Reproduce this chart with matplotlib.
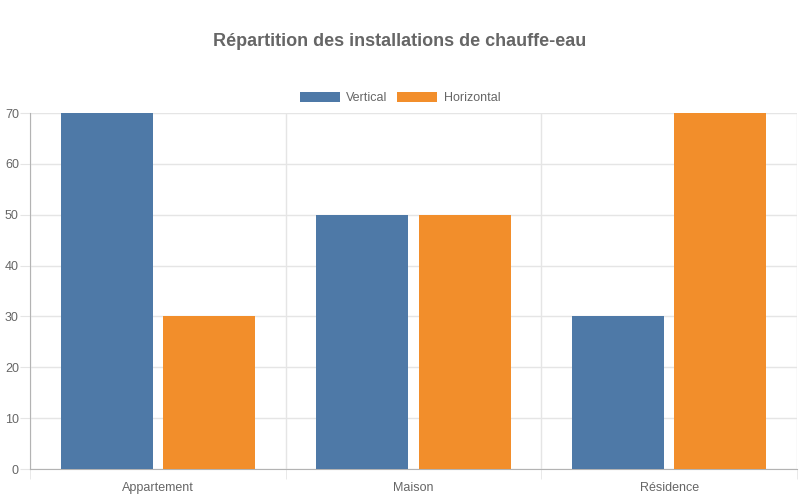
import matplotlib.pyplot as plt
import numpy as np

plt.rcParams['font.family'] = ['Liberation Sans', 'DejaVu Sans']

categories = ['Appartement', 'Maison', 'Résidence']
vertical = [70, 50, 30]
horizontal = [30, 50, 70]
series_names = ['Vertical', 'Horizontal']
colors = ['#4e79a7', '#f28e2b']

fig = plt.figure(figsize=(8, 5), dpi=100)
ax = fig.add_axes([30 / 800, 31 / 500, 767 / 800, 356 / 500])

x = np.arange(len(categories))
group_w = 0.8
bar_w = group_w / 2 * 0.9
offsets = [-group_w / 4, group_w / 4]
for vals, off, col, name in zip([vertical, horizontal], offsets, colors, series_names):
    ax.bar(x + off, vals, width=bar_w, color=col, label=name, zorder=3)

ax.set_xlim(-0.5, len(categories) - 0.5)
ax.set_ylim(0, 70)
ax.set_yticks(range(0, 71, 10))

grid_col = '#e5e5e5'
text_col = '#666666'

ax.set_xticks(x)
ax.set_xticklabels(categories)
ax.set_xticks(np.arange(-0.5, len(categories)), minor=True)
ax.tick_params(axis='x', which='major', length=0, pad=9.5, labelsize=9, labelcolor=text_col)
ax.tick_params(axis='x', which='minor', length=7, color=grid_col)
ax.tick_params(axis='y', length=7, color=grid_col, labelsize=9, labelcolor=text_col, pad=1)

ax.grid(axis='y', color=grid_col, linewidth=1, zorder=0)
ax.grid(axis='x', which='minor', color=grid_col, linewidth=1, zorder=0)

for s in ['top', 'right']:
    ax.spines[s].set_visible(False)
ax.spines['left'].set_color('#b3b3b3')
ax.spines['bottom'].set_color('#b3b3b3')

fig.text(0.5, 1 - 41 / 500, 'Répartition des installations de chauffe-eau',
         ha='center', va='center', fontsize=13, fontweight='bold', color=text_col)

leg = fig.legend(loc='center', bbox_to_anchor=(400 / 800, 1 - 98 / 500), ncol=2, frameon=False,
                 handlelength=3.2, handleheight=0.9, handletextpad=0.5, columnspacing=0.8,
                 fontsize=9)
for t in leg.get_texts():
    t.set_color(text_col)

fig.savefig('out.png', dpi=100)
